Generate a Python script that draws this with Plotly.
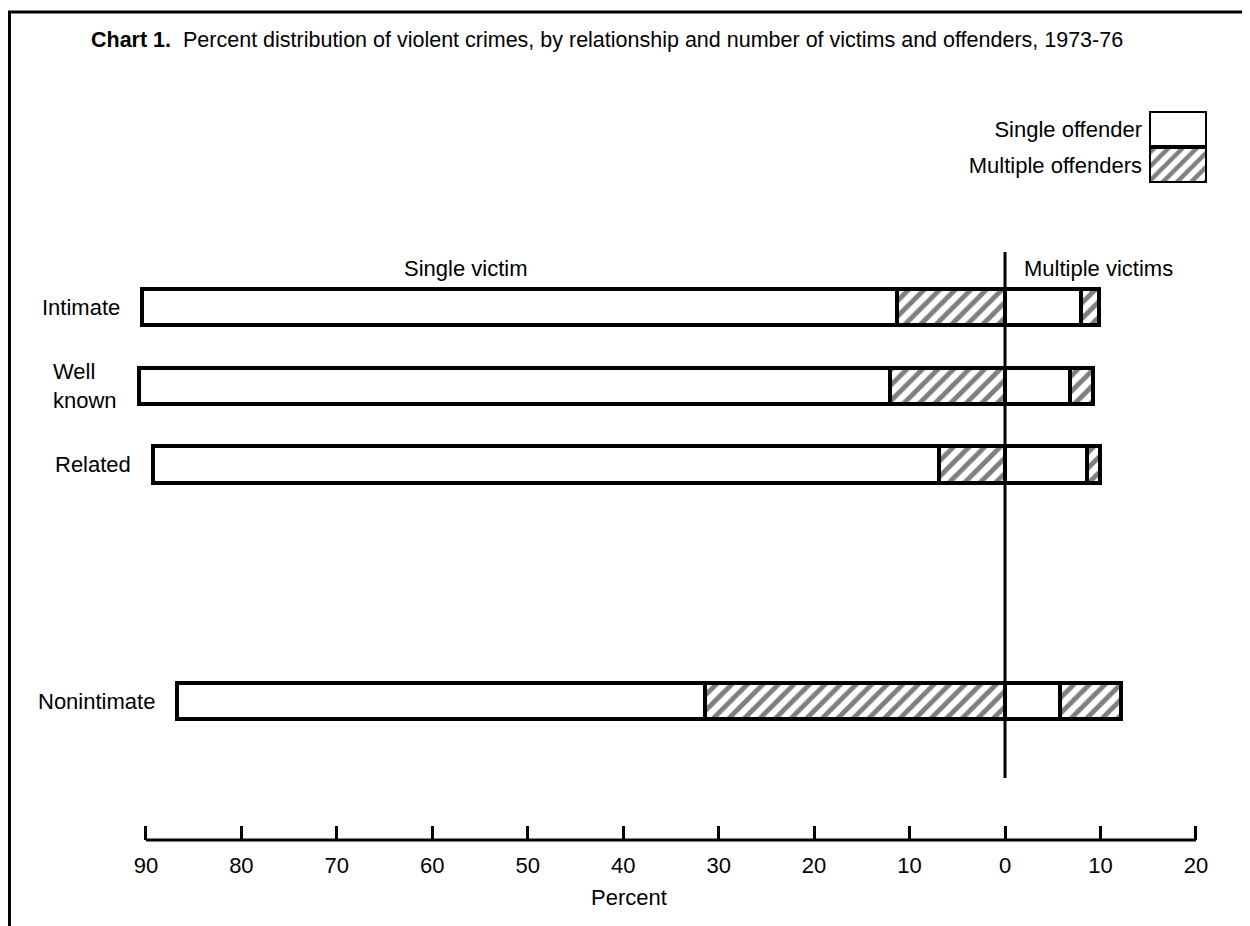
import plotly.graph_objects as go

# ---- data (percent) ----
relationships = ["Intimate", "Well known", "Related", "Nonintimate"]
row_labels = ["Intimate", "Well<br>known", "Related", "Nonintimate"]
sv_single_offender = [79.1, 78.7, 82.4, 55.3]   # single victim, single offender
sv_multiple_offenders = [11.3, 12.0, 6.9, 31.4]  # single victim, multiple offenders
mv_single_offender = [8.0, 6.8, 8.6, 5.8]       # multiple victims, single offender
mv_multiple_offenders = [1.8, 2.4, 1.4, 6.3]    # multiple victims, multiple offenders
tick_values = [-90, -80, -70, -60, -50, -40, -30, -20, -10, 0, 10, 20]
tick_text = ["90", "80", "70", "60", "50", "40", "30", "20", "10", "0", "10", "20"]
legend_names = ["Single offender", "Multiple offenders"]

# ---- layout helpers ----
row_slot = [0, 1, 2, 5]   # vertical slot of each row (gap before Nonintimate)
FONT = "Liberation Sans, Arial, Helvetica, sans-serif"
OFF = 8                    # page body margin
W, H = 1250 - OFF, 926 - OFF
MT, MB = 0, 70
PH = H - MT - MB


def px(p):   # reference x pixel -> paper fraction
    return (p - OFF) / W


def py(p):   # reference y pixel -> paper fraction
    return (PH - (p - OFF - MT)) / PH


BAR_W = 0.46
LINE = dict(color="black", width=4)
hatch = dict(shape="/", fgcolor="black", bgcolor="white", size=11, solidity=0.45)
plain = dict(shape="")
TXT = dict(family=FONT, size=22, color="black")

fig = go.Figure()
fig.add_trace(go.Bar(y=row_slot, x=[-v for v in sv_multiple_offenders], orientation="h",
                     width=BAR_W, marker=dict(color="white", line=LINE, pattern=hatch),
                     name="Single victim, multiple offenders", showlegend=False))
fig.add_trace(go.Bar(y=row_slot, x=[-v for v in sv_single_offender], orientation="h",
                     width=BAR_W, marker=dict(color="white", line=LINE, pattern=plain),
                     name="Single victim, single offender", showlegend=False))
fig.add_trace(go.Bar(y=row_slot, x=mv_single_offender, orientation="h",
                     width=BAR_W, marker=dict(color="white", line=LINE, pattern=plain),
                     name="Multiple victims, single offender", showlegend=False))
fig.add_trace(go.Bar(y=row_slot, x=mv_multiple_offenders, orientation="h",
                     width=BAR_W, marker=dict(color="white", line=LINE, pattern=hatch),
                     name="Multiple victims, multiple offenders", showlegend=False))

# legend key as an inset
fig.add_trace(go.Bar(y=legend_names, x=[1, 1], orientation="h", width=1,
                     xaxis="x2", yaxis="y2", showlegend=False,
                     marker=dict(color="white", line=dict(color="black", width=4),
                                 pattern=dict(shape=["", "/"], fgcolor="black", bgcolor="white",
                                              size=10, solidity=0.45))))

# axis ranges: x=-90 at ref px 146, x=20 at ref px 1196
px_per_unit = (1196 - 146) / 110
x_zero = 1005 - OFF
x0 = -x_zero / px_per_unit
x1 = (W - x_zero) / px_per_unit
slot_px = 78.8
y_first = 307 - OFF
y_top = (MT - y_first) / slot_px
y_bot = (MT + PH - y_first) / slot_px

annotations = []
for lab, slot, a, b in zip(row_labels, row_slot, sv_single_offender, sv_multiple_offenders):
    annotations.append(dict(x=-(a + b), y=slot, xref="x", yref="y", text=lab,
                            xanchor="right", yanchor="middle", align="left", xshift=-20,
                            showarrow=False, font=TXT))
annotations += [
    dict(x=-56.5, y=py(269), xref="x", yref="paper", text="Single victim", showarrow=False,
         xanchor="center", yanchor="middle", font=TXT),
    dict(x=0, y=py(269), xref="x", yref="paper", text="Multiple victims", showarrow=False,
         xanchor="left", yanchor="middle", xshift=17, font=TXT),
    dict(x=px(89), y=py(40), xref="paper", yref="paper", showarrow=False,
         xanchor="left", yanchor="middle",
         text="<b>Chart 1.</b>  Percent distribution of violent crimes, by relationship and number of victims and offenders, 1973-76",
         font=dict(family=FONT, size=21.5, color="black")),
]

shapes = [
    # frame
    dict(type="line", xref="paper", yref="paper", x0=0, x1=1, y0=py(12), y1=py(12),
         line=dict(color="black", width=3)),
    dict(type="line", xref="paper", yref="paper", x0=px(OFF + 1.5), x1=px(OFF + 1.5),
         y0=py(11), y1=py(H + OFF + 5),
         line=dict(color="black", width=3)),
    # zero divider
    dict(type="line", xref="x", yref="paper", x0=0, x1=0, y0=py(252), y1=py(778),
         line=dict(color="black", width=3), layer="above"),
    # bottom scale line
    dict(type="line", xref="x", yref="paper", x0=-90, x1=20, y0=py(840), y1=py(840),
         line=dict(color="black", width=3)),
]

fig.update_layout(
    width=W, height=H,
    margin=dict(l=0, r=0, t=MT, b=MB, pad=0),
    paper_bgcolor="white", plot_bgcolor="white",
    barmode="relative", bargap=0,
    showlegend=False,
    font=TXT,
    xaxis=dict(range=[x0, x1], anchor="free", position=py(840),
               tickmode="array", tickvals=tick_values, ticktext=tick_text,
               ticks="inside", ticklen=14, tickwidth=3, tickcolor="black",
               showgrid=False, zeroline=False, showline=False,
               ticklabelstandoff=10, tickfont=TXT,
               title=dict(text="Percent", standoff=12, font=TXT)),
    yaxis=dict(range=[y_bot, y_top], showgrid=False, zeroline=False, showline=False,
               showticklabels=False, ticks=""),
    xaxis2=dict(domain=[px(1149), px(1207)], range=[0, 1], anchor="y2", visible=False),
    yaxis2=dict(domain=[py(183), py(111)], anchor="x2", autorange="reversed",
                showgrid=False, zeroline=False, showline=False, ticks="",
                ticklabelstandoff=6, tickfont=TXT),
    annotations=annotations,
    shapes=shapes,
)

fig.write_html("out.html")
